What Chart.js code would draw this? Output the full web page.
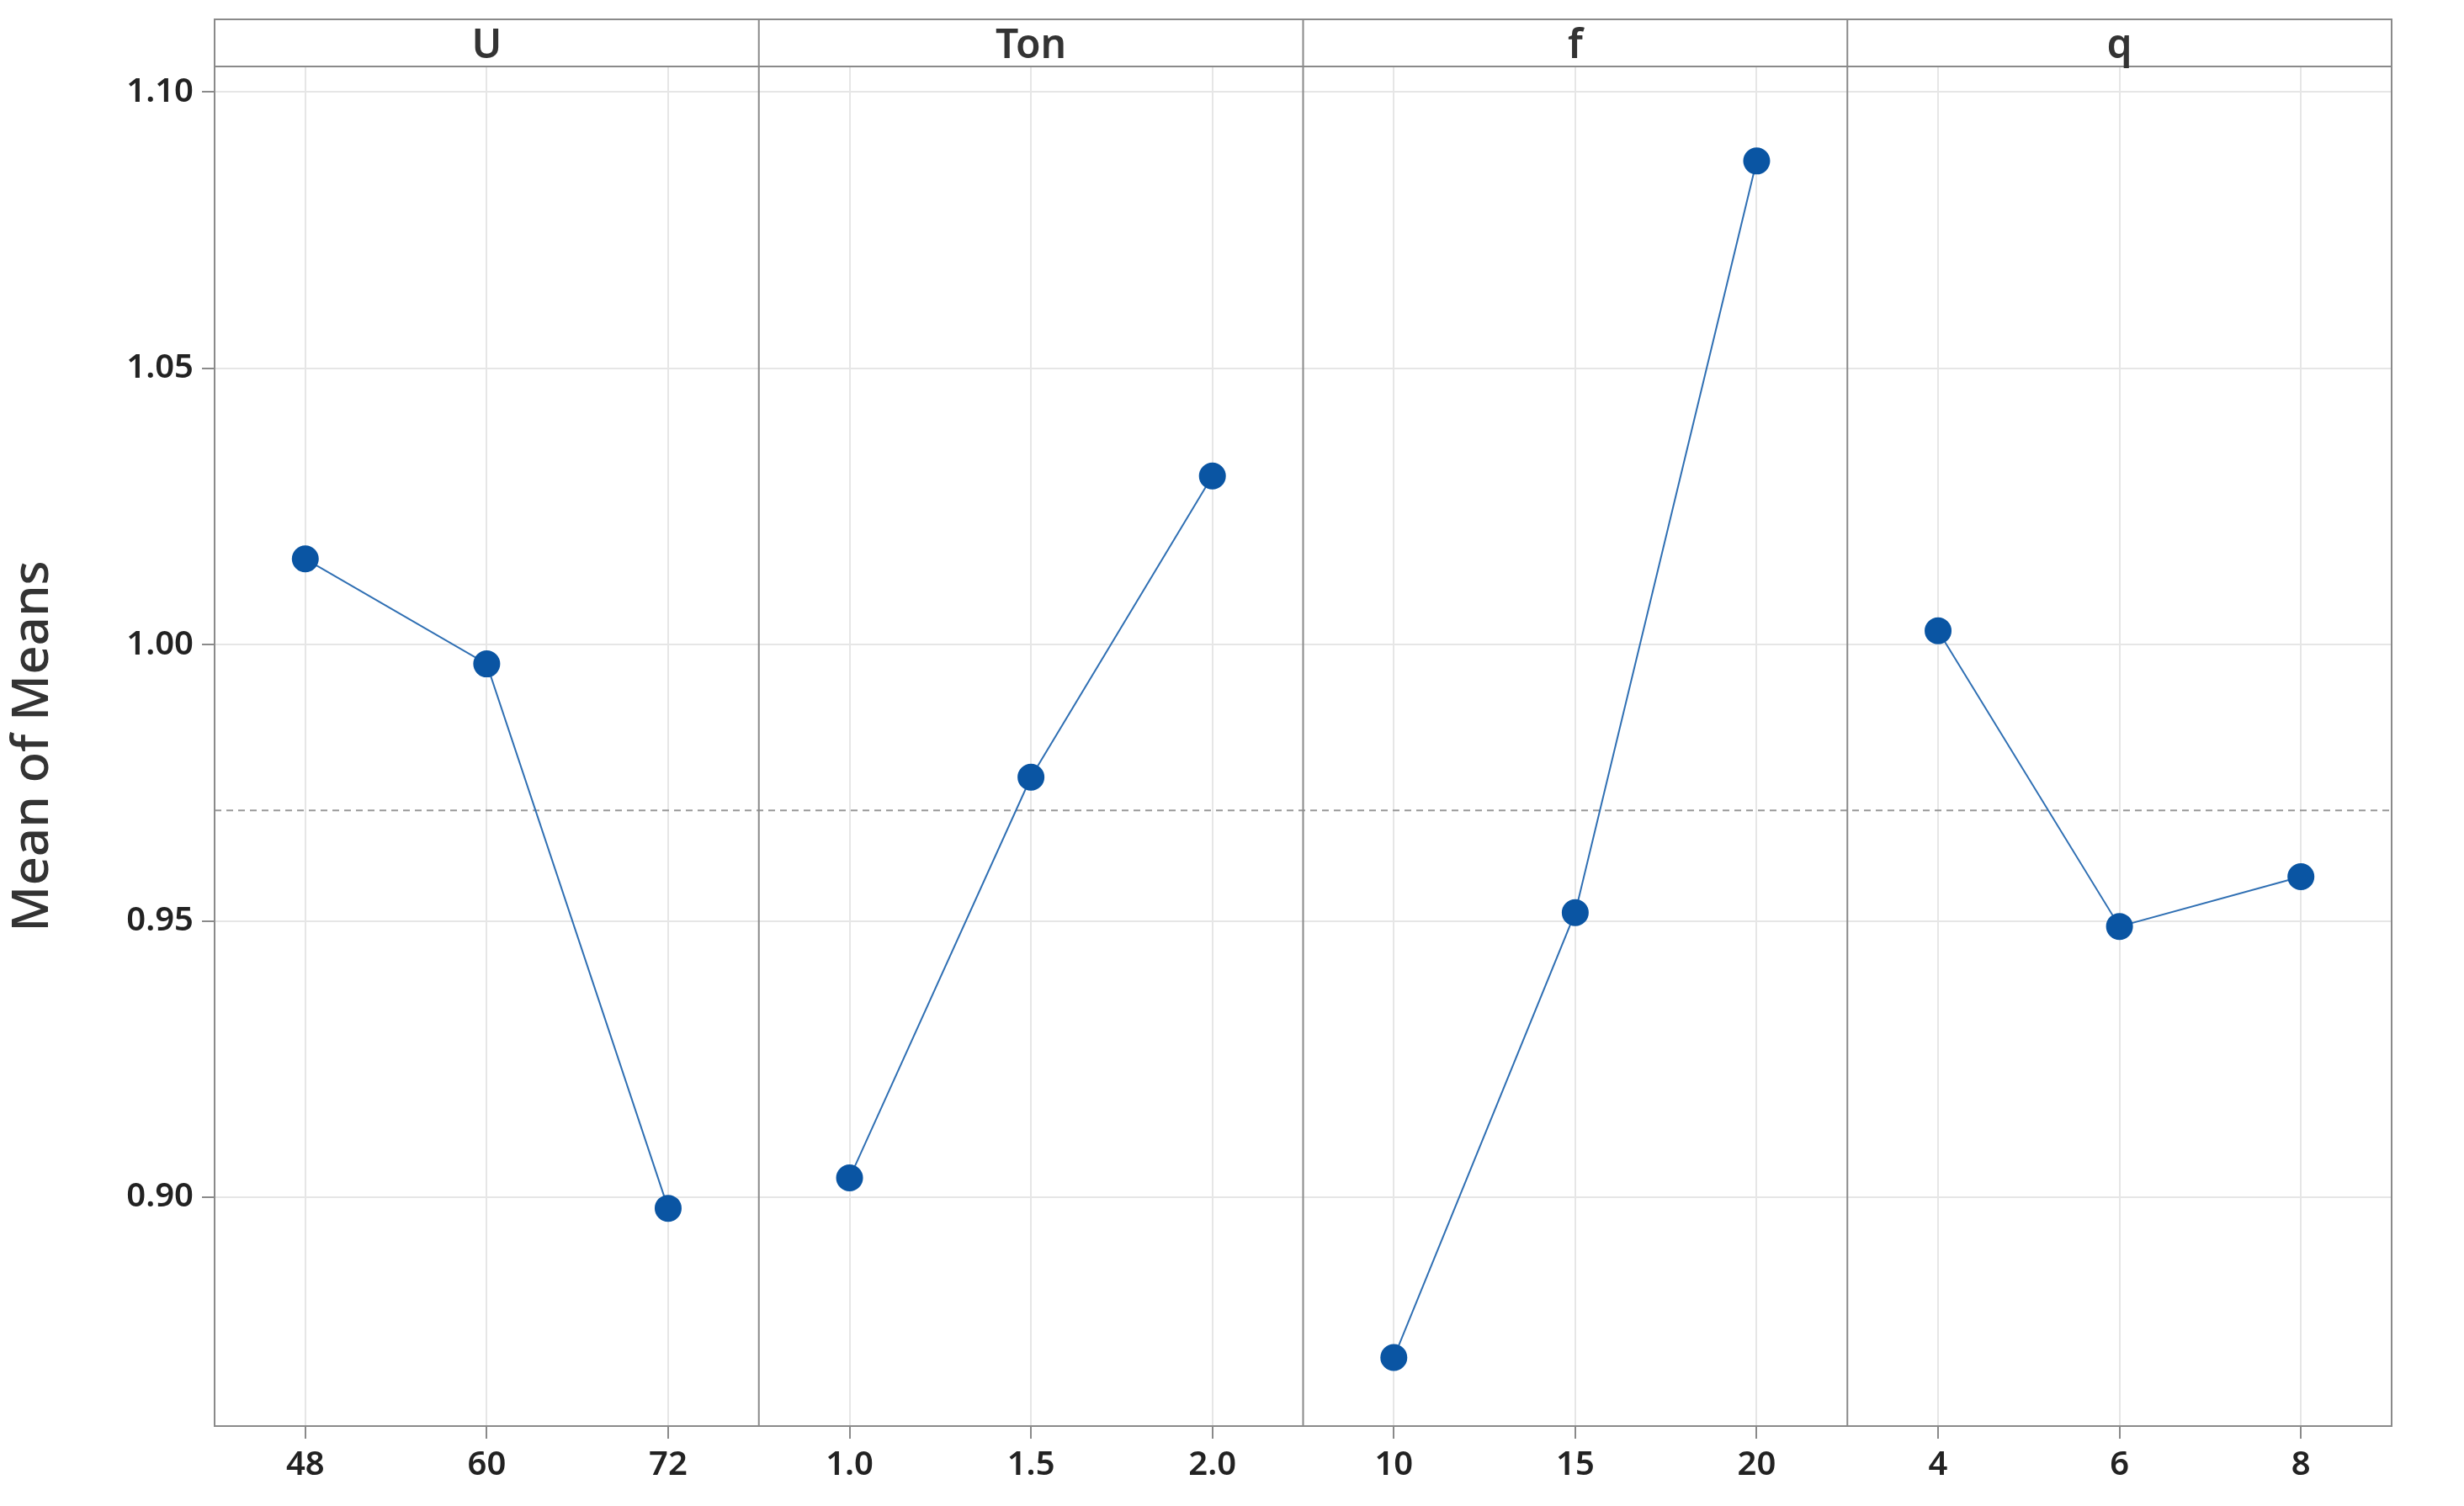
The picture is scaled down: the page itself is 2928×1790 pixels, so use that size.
<!DOCTYPE html>
<html>
<head>
<meta charset="utf-8">
<script src="https://cdn.jsdelivr.net/npm/chart.js@4"></script>
<style>
    html, body { margin: 0; padding: 0; background: #fff; }
    #wrap { width: 2928px; height: 1790px; }
</style>
</head>
<body>
<div id="wrap"><canvas id="grafico"></canvas></div>
<script>
// factors and their levels
const fatores = ["U", "Ton", "f", "q"];
const niveis = [
    ["48", "60", "72"],
    ["1.0", "1.5", "2.0"],
    ["10", "15", "20"],
    ["4", "6", "8"]
];
const mediaU = [1.0155, 0.9965, 0.898];
const mediaTon = [0.9035, 0.976, 1.0305];
const mediaF = [0.871, 0.9515, 1.0875];
const mediaQ = [1.0025, 0.949, 0.958];
const mediaGeral = 0.970;
const yTicks = [0.90, 0.95, 1.00, 1.05, 1.10];

const series = [mediaU, mediaTon, mediaF, mediaQ];
const posicoes = [0.5, 1.5, 2.5];
const labelsX = niveis.flat();
const tickPos = [];
fatores.forEach((_, i) => posicoes.forEach(p => tickPos.push(i * 3 + p)));

const fonte = "'Noto Sans', 'Open Sans', sans-serif";
const azul = "#0a55a3";

const datasets = series.map((s, i) => ({
    data: s.map((v, j) => ({ x: i * 3 + posicoes[j], y: v })),
    borderColor: "#2f6fb3",
    borderWidth: 2,
    pointRadius: 15,
    pointHoverRadius: 15,
    pointBackgroundColor: azul,
    pointBorderColor: azul,
    tension: 0
}));
datasets.push({
    data: [{ x: 0, y: mediaGeral }, { x: 12, y: mediaGeral }],
    borderColor: "#999",
    borderWidth: 2,
    borderDash: [8, 6],
    pointRadius: 0
});

const paineis = {
    id: "paineis",
    afterDraw(chart) {
        const { ctx, chartArea: a, scales } = chart;
        const x = scales.x;
        ctx.save();
        ctx.strokeStyle = "#8a8a8a";
        ctx.lineWidth = 2;
        const topo = 23;
        ctx.strokeRect(a.left, topo, a.right - a.left, a.bottom - topo);
        ctx.beginPath();
        ctx.moveTo(a.left, a.top);
        ctx.lineTo(a.right, a.top);
        for (let i = 1; i < 4; i++) {
            const px = x.getPixelForValue(i * 3);
            ctx.moveTo(px, topo);
            ctx.lineTo(px, a.bottom);
        }
        ctx.stroke();
        ctx.fillStyle = "#333";
        ctx.font = "600 48px " + fonte;
        ctx.textAlign = "center";
        ctx.textBaseline = "middle";
        fatores.forEach((f, i) => {
            ctx.fillText(f, x.getPixelForValue(i * 3 + 1.5), (topo + a.top) / 2 + 4);
        });
        ctx.restore();
    }
};

new Chart(document.getElementById("grafico"), {
    type: "line",
    data: { datasets },
    options: {
        responsive: true,
        maintainAspectRatio: false,
        animation: false,
        layout: { padding: { top: 79, right: 86, left: 0, bottom: 0 } },
        plugins: { legend: { display: false }, tooltip: { enabled: false } },
        scales: {
            x: {
                type: "linear",
                min: 0,
                max: 12,
                afterBuildTicks: s => { s.ticks = tickPos.map(v => ({ value: v })); },
                afterFit: s => { s.height = 95; },
                ticks: {
                    callback: (v, i) => labelsX[i],
                    color: "#222",
                    font: { size: 40, family: fonte, weight: "600" },
                    padding: 8,
                    maxRotation: 0,
                    autoSkip: false
                },
                grid: { color: "#e6e6e6", lineWidth: 2, tickColor: "#8a8a8a", tickLength: 15 },
                border: { display: false }
            },
            y: {
                min: 0.8586,
                max: 1.1046,
                afterBuildTicks: s => { s.ticks = yTicks.map(v => ({ value: v })); },
                afterFit: s => { s.width = 255; },
                ticks: {
                    callback: v => v.toFixed(2),
                    color: "#222",
                    font: { size: 40, family: fonte, weight: "600" },
                    padding: 10
                },
                grid: { color: "#e6e6e6", lineWidth: 2, tickColor: "#8a8a8a", tickLength: 15 },
                border: { display: false },
                title: {
                    display: true,
                    text: "Mean of Means",
                    color: "#333",
                    font: { size: 60, family: fonte, weight: "500" },
                    padding: { bottom: 20 }
                }
            }
        }
    },
    plugins: [paineis]
});
</script>
</body>
</html>
